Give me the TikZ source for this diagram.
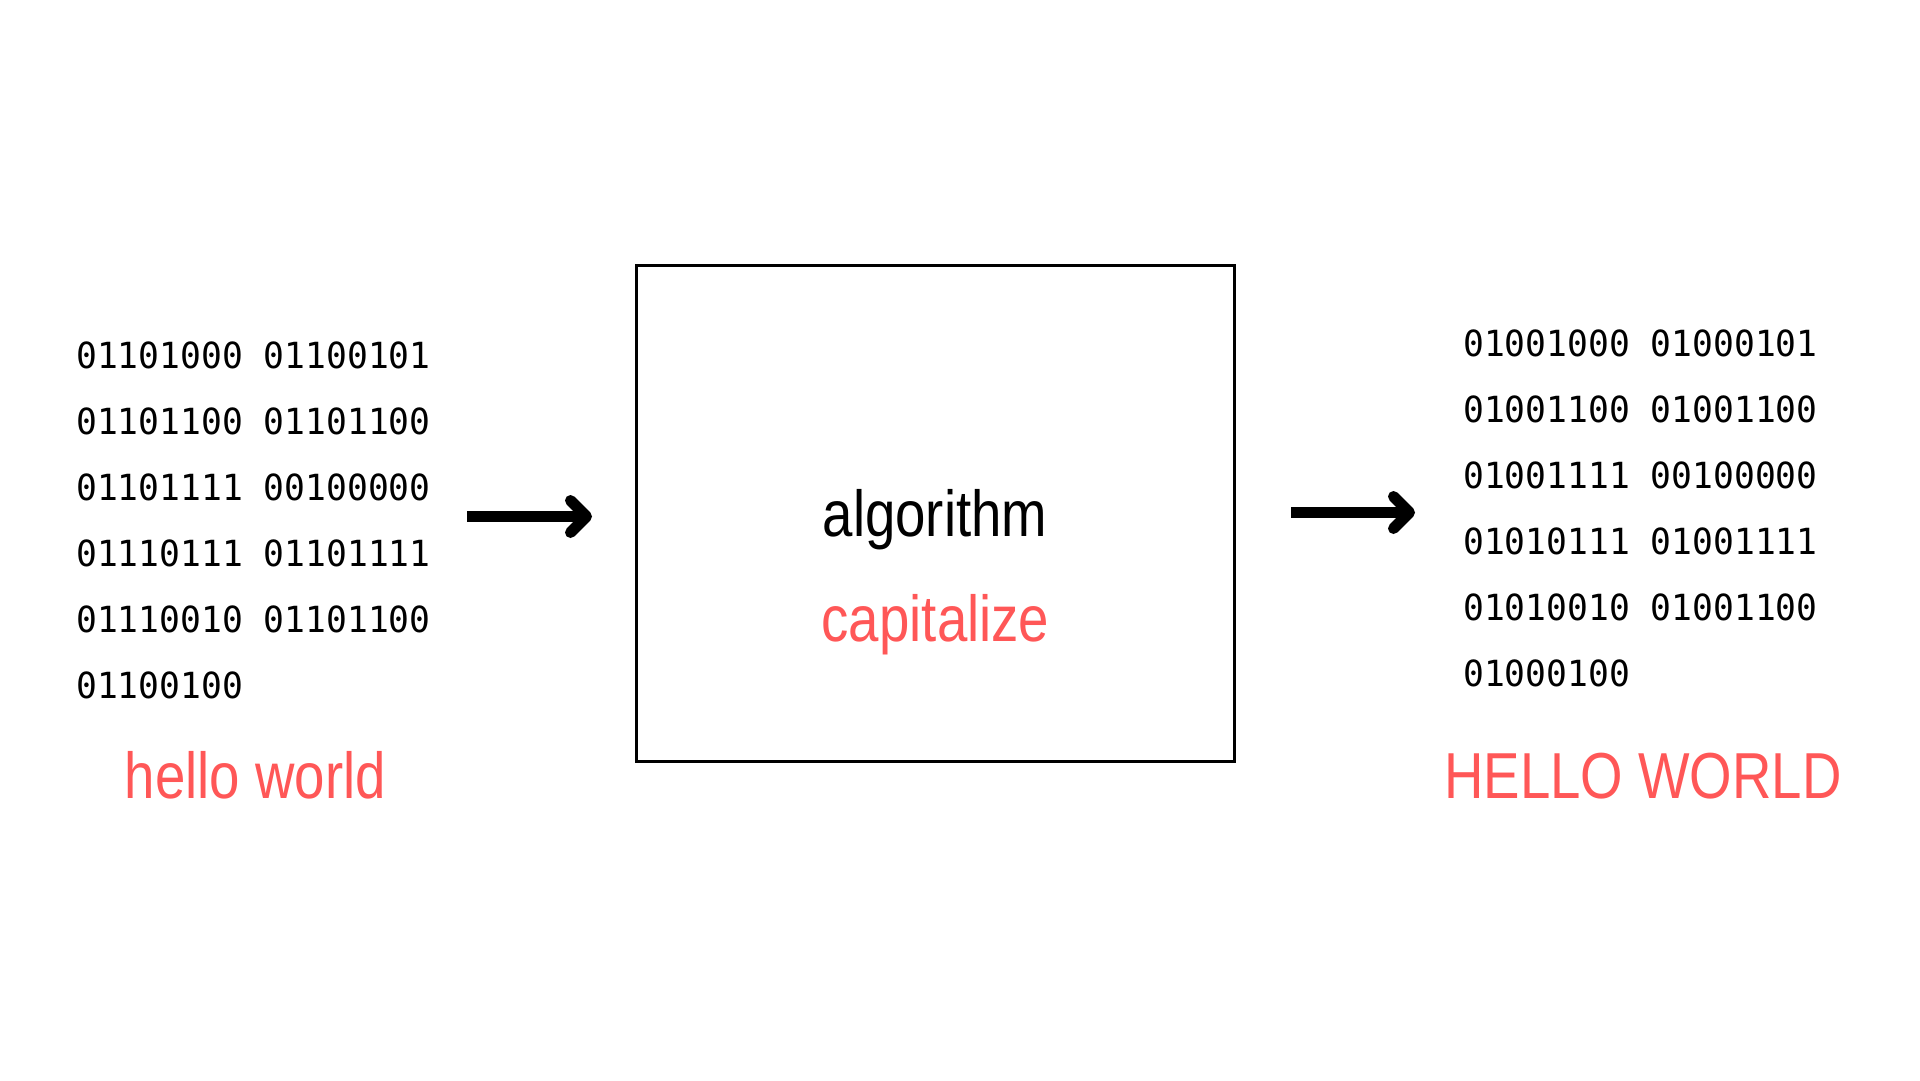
\documentclass[tikz,border=0pt]{standalone}
\usepackage{fontspec}
\usetikzlibrary{arrows.meta}
\newfontfamily\condsans[FakeStretch=0.84]{Liberation Sans}
\newfontfamily\binmono[FakeStretch=0.962]{DejaVu Sans Mono}
\definecolor{coral}{HTML}{FF5757}
\tikzset{
  bintext/.style={inner sep=0pt, align=left, anchor=north west, font=\binmono\fontsize{36}{66}\selectfont},
  bigword/.style={inner sep=0pt, anchor=base, font=\condsans\fontsize{65}{78}\selectfont},
  algobox/.style={draw=black, line width=3pt, minimum width=598pt, minimum height=496pt, inner sep=0pt},
  thickarrow/.style={line width=11pt, -{Straight Barb[length=16pt,width=32pt,round]}}
}
\begin{document}
\begin{tikzpicture}[x=1pt,y=-1pt]
\useasboundingbox (0,0) rectangle (1920,1080);
\fill[white] (0,0) rectangle (1920,1080);

\node[algobox] (box) at (935.5,513.5) {};
\node[bigword] (alg) at (935,536) {algorithm};
\node[bigword, text=coral] (cap) at (935.5,641) {capitalize};

\node[bintext] (binL) at (76,341.7) {01101000 01100101\\01101100 01101100\\01101111 00100000\\01110111 01101111\\01110010 01101100\\01100100};
\node[bintext] (binR) at (1463,330) {01001000 01000101\\01001100 01001100\\01001111 00100000\\01010111 01001111\\01010010 01001100\\01000100};

\node[bigword, text=coral] (hw) at (255.5,798) {hello world};
\node[bigword, text=coral] (HW) at (1643,798) {HELLO WORLD};

\coordinate (a1s) at (467,516.5);
\coordinate (a1e) at (592,516.5);
\coordinate (a2s) at (1291,512.5);
\coordinate (a2e) at (1415,512.5);
\draw[thickarrow] (a1s) -- (a1e);
\draw[thickarrow] (a2s) -- (a2e);
\end{tikzpicture}
\end{document}
